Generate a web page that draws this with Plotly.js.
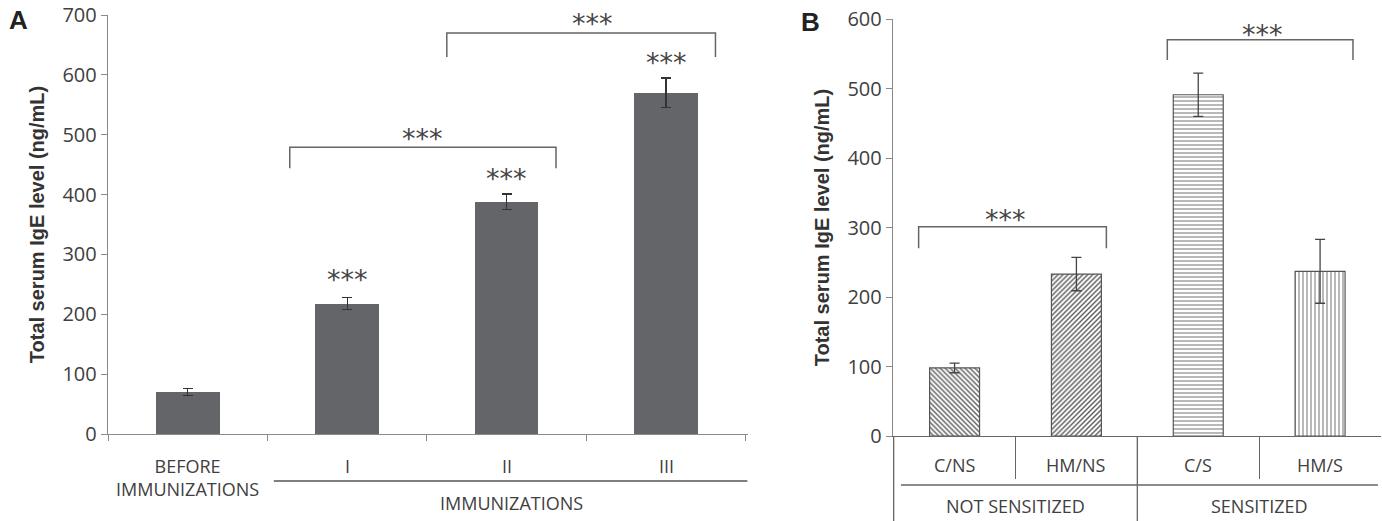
<!DOCTYPE html>
<html><head><meta charset="utf-8">
<script src="https://cdn.plot.ly/plotly-3.0.1.min.js"></script>
<style>html,body{margin:0;padding:0;background:#fff}</style>
</head><body><div id="chart" style="width:1382px;height:521px"></div>
<script>
// ---- data ----
const categoriesA = ['BEFORE IMMUNIZATIONS', 'I', 'II', 'III'];
const tickTextA = ['BEFORE<br>IMMUNIZATIONS', 'I', 'II', 'III'];
const valuesA = [70, 218, 388, 570];
const errorsA = [6, 10, 13, 25];
const groupLabelA = 'IMMUNIZATIONS';

const categoriesB = ['C/NS', 'HM/NS', 'C/S', 'HM/S'];
const valuesB = [98, 233, 491, 237];
const errorsB = [7, 24, 31, 46];
const groupLabelsB = ['NOT SENSITIZED', 'SENSITIZED'];
const patternsB = ['\\', '/', '-', '|'];

const yTicksA = [0, 100, 200, 300, 400, 500, 600, 700];
const yTicksB = [0, 100, 200, 300, 400, 500, 600];
const yTitle = 'Total serum IgE level (ng/mL)';
const sig = '***';

// ---- geometry ----
const W = 1382, H = 521;
const px = v => v / W, py = v => (H - v) / H;
const axisCol = '#8a8a8a', txt = '#404040';
const FONT = 'Open Sans, Liberation Sans, sans-serif';

const traces = [
  {
    type: 'bar', x: categoriesA, y: valuesA, xaxis: 'x', yaxis: 'y', width: 0.4,
    marker: {color: '#636569'},
    error_y: {type: 'data', array: errorsA, color: '#333', thickness: 1.3, width: 5},
    hoverinfo: 'x+y', showlegend: false
  },
  {
    type: 'bar', x: categoriesB, y: valuesB, xaxis: 'x2', yaxis: 'y2', width: 0.41,
    marker: {
      color: 'white', line: {color: '#555', width: 1.2},
      pattern: {shape: patternsB, fgcolor: ['#5a5a5a', '#5a5a5a', '#8a8a8a', '#8a8a8a'], bgcolor: 'white',
                size: [3.5, 3.5, 4, 4], solidity: [0.4, 0.4, 0.3, 0.3]}
    },
    error_y: {type: 'data', array: errorsB, color: '#444', thickness: 1.3, width: 5},
    hoverinfo: 'x+y', showlegend: false
  }
];

function bracket(xr, yr, x0, x1, ytop, yleg) {
  return {type: 'path', xref: xr, yref: yr, layer: 'above',
    path: `M${x0},${yleg} L${x0},${ytop} L${x1},${ytop} L${x1},${yleg}`,
    line: {color: '#666', width: 1.5}};
}
function star(xr, yr, x, y) {
  return {xref: xr, yref: yr, x: x, y: y, text: sig, showarrow: false,
    font: {family: 'DejaVu Sans', size: 27, color: '#444'}, xanchor: 'center', yanchor: 'middle', yshift: -7};
}
function label(xr, x, ypix, text, anchor) {
  return {xref: xr, yref: 'paper', x: x, y: py(ypix), text: text, showarrow: false,
    xanchor: 'center', yanchor: anchor || 'middle', font: {family: FONT, size: 18, color: txt}};
}

const commonY = {
  showline: true, linecolor: axisCol, linewidth: 1.3, ticks: 'outside', ticklen: 6, tickcolor: axisCol,
  showgrid: false, zeroline: false, tickfont: {family: FONT, size: 20, color: txt},
  title: {text: yTitle, font: {family: 'Liberation Sans, Arial, sans-serif', size: 20, color: '#333', weight: 'bold'}, standoff: 12}
};

const annotations = [
  label('x', 2.03, 503, groupLabelA),
  label('x2', 0.5, 506, groupLabelsB[0]),
  label('x2', 2.5, 506, groupLabelsB[1]),
  {xref: 'paper', yref: 'paper', x: px(18), y: py(20), text: '<b>A</b>', showarrow: false,
   xanchor: 'center', yanchor: 'middle', font: {family: 'Liberation Sans, Arial, sans-serif', size: 26, color: '#222'}},
  {xref: 'paper', yref: 'paper', x: px(810), y: py(22), text: '<b>B</b>', showarrow: false,
   xanchor: 'center', yanchor: 'middle', font: {family: 'Liberation Sans, Arial, sans-serif', size: 26, color: '#222'}},
  star('x', 'y', 1, 270),
  star('x', 'y', 2, 439),
  star('x', 'y', 3, 633),
  star('x', 'y', 1.475, 506),
  star('x', 'y', 2.54, 698),
  star('x2', 'y2', 0.42, 321),
  star('x2', 'y2', 2.53, 588)
];
tickTextA.forEach((t, i) => annotations.push(label('x', i, 452, t, 'top')));
categoriesB.forEach((t, i) => annotations.push(label('x2', i, 465, t)));

const layout = {
  width: W, height: H, margin: {l: 0, r: 0, t: 0, b: 0},
  paper_bgcolor: 'white', plot_bgcolor: 'white', showlegend: false, bargap: 0,
  xaxis: {
    domain: [px(108), px(748)], type: 'category', anchor: 'y',
    tickson: 'boundaries', ticks: 'outside', ticklen: 6, tickcolor: axisCol,
    showline: true, linecolor: axisCol, linewidth: 1.3, showgrid: false,
    showticklabels: false
  },
  yaxis: Object.assign({}, commonY, {domain: [py(434), py(15)], range: [0, 700], tickvals: yTicksA, anchor: 'x'}),
  xaxis2: {
    domain: [px(893), px(1381)], type: 'category', anchor: 'y2',
    tickson: 'boundaries', ticks: 'outside', ticklen: 42, tickcolor: '#666', tickwidth: 1.2,
    showline: true, linecolor: '#666', linewidth: 1.3, showgrid: false,
    showticklabels: false
  },
  yaxis2: Object.assign({}, commonY, {domain: [py(436), py(19)], range: [0, 600], tickvals: yTicksB, anchor: 'x2'}),
  shapes: [
    {type: 'line', xref: 'x', yref: 'paper', x0: 0.54, x1: 3.51, y0: py(481), y1: py(481), line: {color: '#555', width: 1.3}},
    {type: 'line', xref: 'x2', yref: 'paper', x0: -0.44, x1: 3.475, y0: py(485), y1: py(485), line: {color: '#666', width: 1.3}},
    {type: 'line', xref: 'x2', yref: 'paper', x0: -0.5, x1: -0.5, y0: 0, y1: py(436), line: {color: '#666', width: 1.3}},
    {type: 'line', xref: 'x2', yref: 'paper', x0: 1.5, x1: 1.5, y0: 0, y1: py(436), line: {color: '#666', width: 1.3}},
    bracket('x', 'y', 0.64, 2.31, 479, 444),
    bracket('x', 'y', 1.625, 3.31, 670, 630),
    bracket('x2', 'y2', -0.295, 1.246, 301, 270),
    bracket('x2', 'y2', 1.746, 3.27, 570, 541)
  ],
  annotations: annotations
};

Plotly.newPlot('chart', traces, layout, {displayModeBar: false, staticPlot: true});
</script>
</body></html>
